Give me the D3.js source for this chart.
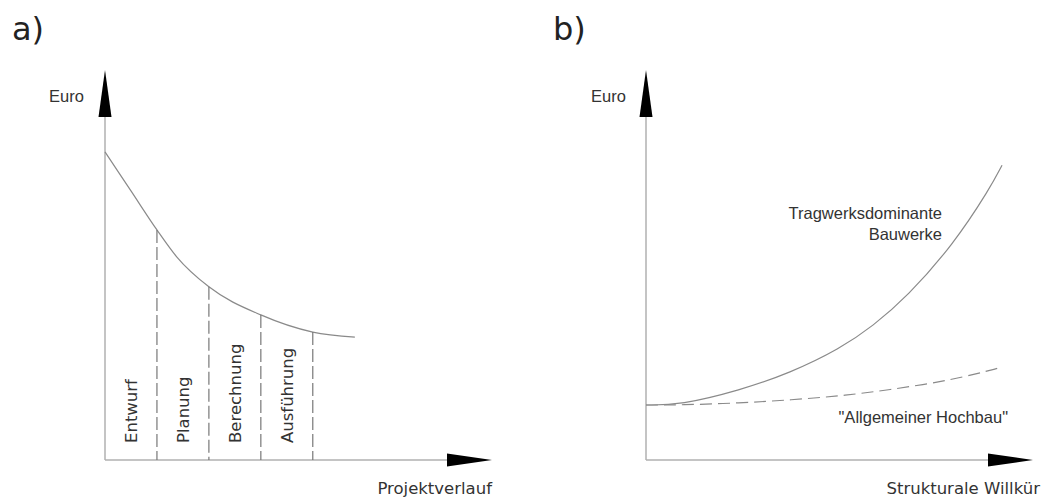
<!DOCTYPE html>
<html>
<head>
<meta charset="utf-8">
<script src="https://cdn.jsdelivr.net/npm/d3@7"></script>
<style>
  body { margin: 0; background: #fff; }
  svg { display: block; }
</style>
</head>
<body>
<div id="chart"></div>
<script>
// panel a: cost decline over project phases
const phases = ["Entwurf", "Planung", "Berechnung", "Ausführung"];
const phaseBounds = [0, 1, 2, 3, 4];          // phase boundaries on x (phase units)
const costX = [0, 0.5, 1, 1.38, 2, 3, 4, 4.81];
const costY = [7.9, 6.9, 5.9, 5.21, 4.44, 3.72, 3.28, 3.15];

// panel b: cost vs structural freedom
const tragX = [0, 0.88, 2.43, 3.72, 5.01, 5.87, 6.74, 7.93, 8.89, 9.2];
const tragY = [1.41, 1.41, 1.79, 2.23, 2.85, 3.44, 4.18, 5.51, 6.97, 7.56];
const hochX = [0, 0.88, 2.43, 3.72, 5.01, 6.23, 7.93, 9.2];
const hochY = [1.41, 1.41, 1.46, 1.54, 1.64, 1.79, 2.05, 2.38];

const W = 1045, H = 499;
const svg = d3.select("#chart").append("svg")
    .attr("width", W)
    .attr("height", H);

const axisCol = "#b0b0b0", curveCol = "#8a8a8a", textCol = "#333";
const sans = "'DejaVu Sans', Verdana, sans-serif";
const arial = "'Liberation Sans', Arial, sans-serif";

// draws the two arrow axes of one panel
function drawAxes(g, x0, x1, y0, y1) {
    g.append("line")
        .attr("x1", x0).attr("y1", y0)
        .attr("x2", x0).attr("y2", y1 + 40)
        .attr("stroke", axisCol).attr("stroke-width", 1.5);
    g.append("line")
        .attr("x1", x0).attr("y1", y0)
        .attr("x2", x1 - 40).attr("y2", y0)
        .attr("stroke", axisCol).attr("stroke-width", 1.5);
    // arrow heads
    g.append("path")
        .attr("d", `M${x0},${y1} L${x0 - 6.5},${y1 + 47} L${x0 + 6.5},${y1 + 47} Z`)
        .attr("fill", "#000");
    g.append("path")
        .attr("d", `M${x1},${y0} L${x1 - 45},${y0 - 6.5} L${x1 - 45},${y0 + 6.5} Z`)
        .attr("fill", "#000");
}

// ---------- panel a ----------
let xa = d3.scaleLinear().domain([0, 7.45]).range([105, 492]);
let ya = d3.scaleLinear().domain([0, 10]).range([460, 70]);

let ga = svg.append("g");
ga.append("text")
    .attr("x", 12).attr("y", 40)
    .attr("font-family", sans).attr("font-size", 32)
    .attr("fill", "#222")
    .text("a)");

drawAxes(ga, xa(0), xa(7.45), ya(0), ya(10));

ga.append("text")
    .attr("x", 49).attr("y", 102)
    .attr("font-family", arial).attr("font-size", 16.5)
    .attr("fill", textCol)
    .text("Euro");

ga.append("text")
    .attr("x", 492).attr("y", 494)
    .attr("text-anchor", "end")
    .attr("font-family", sans).attr("font-size", 16.5)
    .attr("fill", textCol)
    .text("Projektverlauf");

let lineA = d3.line()
    .x((d, i) => xa(costX[i]))
    .y(d => ya(d))
    .curve(d3.curveMonotoneX);

ga.append("path")
    .datum(costY)
    .attr("d", lineA)
    .attr("fill", "none")
    .attr("stroke", curveCol)
    .attr("stroke-width", 1.2);

// dashed separators between phases, from the curve down to the axis
ga.selectAll(".sep")
    .data(phaseBounds.slice(1))
    .enter().append("line")
    .attr("class", "sep")
    .attr("x1", d => xa(d)).attr("x2", d => xa(d))
    .attr("y1", d => ya(costY[costX.indexOf(d)]))
    .attr("y2", ya(0))
    .attr("stroke", "#777")
    .attr("stroke-width", 1.2)
    .attr("stroke-dasharray", "13,4");

ga.selectAll(".phase")
    .data(phases)
    .enter().append("text")
    .attr("class", "phase")
    .attr("transform", (d, i) => `translate(${xa(i + 0.5) + 6},${443}) rotate(-90)`)
    .attr("font-family", sans).attr("font-size", 16.5)
    .attr("fill", textCol)
    .text(d => d);

// ---------- panel b ----------
let xb = d3.scaleLinear().domain([0, 10]).range([646, 1033]);
let yb = d3.scaleLinear().domain([0, 10]).range([460, 70]);

let gb = svg.append("g");
gb.append("text")
    .attr("x", 553).attr("y", 40)
    .attr("font-family", sans).attr("font-size", 32)
    .attr("fill", "#222")
    .text("b)");

drawAxes(gb, xb(0), xb(10), yb(0), yb(10));

gb.append("text")
    .attr("x", 591).attr("y", 102)
    .attr("font-family", arial).attr("font-size", 16.5)
    .attr("fill", textCol)
    .text("Euro");

gb.append("text")
    .attr("x", 1040).attr("y", 494)
    .attr("text-anchor", "end")
    .attr("font-family", sans).attr("font-size", 16.5)
    .attr("fill", textCol)
    .text("Strukturale Willkür");

// basis smoothing irons out the small reading errors
let lineTrag = d3.line()
    .x((d, i) => xb(tragX[i]))
    .y(d => yb(d))
    .curve(d3.curveBasis);
let lineHoch = d3.line()
    .x((d, i) => xb(hochX[i]))
    .y(d => yb(d))
    .curve(d3.curveBasis);

gb.append("path")
    .datum(tragY)
    .attr("d", lineTrag)
    .attr("fill", "none")
    .attr("stroke", curveCol)
    .attr("stroke-width", 1.2);

gb.append("path")
    .datum(hochY)
    .attr("d", lineHoch)
    .attr("fill", "none")
    .attr("stroke", curveCol)
    .attr("stroke-width", 1.2)
    .attr("stroke-dasharray", "12,6");

gb.append("text")
    .attr("x", 942).attr("y", 219)
    .attr("text-anchor", "end")
    .attr("font-family", arial).attr("font-size", 16.5)
    .attr("fill", textCol)
    .text("Tragwerksdominante");
gb.append("text")
    .attr("x", 942).attr("y", 240)
    .attr("text-anchor", "end")
    .attr("font-family", arial).attr("font-size", 16.5)
    .attr("fill", textCol)
    .text("Bauwerke");

gb.append("text")
    .attr("x", 1008).attr("y", 423)
    .attr("text-anchor", "end")
    .attr("font-family", arial).attr("font-size", 16.5)
    .attr("fill", textCol)
    .text("\"Allgemeiner Hochbau\"");
</script>
</body>
</html>
